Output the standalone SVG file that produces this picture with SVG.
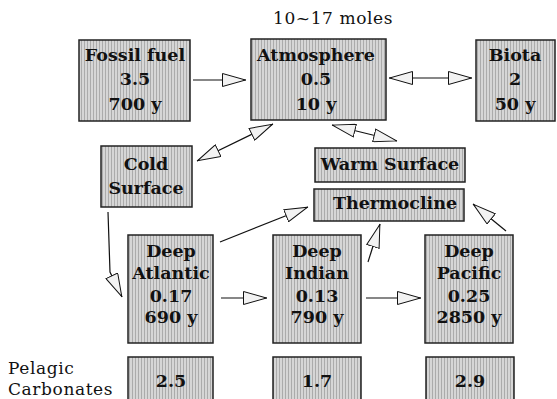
<svg xmlns="http://www.w3.org/2000/svg" width="557" height="399" viewBox="0 0 557 399">
<style>
.box{fill:url(#dots);stroke:#222;stroke-width:1.5}
.t{font-family:"DejaVu Serif","Liberation Serif",serif;font-weight:bold;font-size:17.5px;fill:#111;text-anchor:middle}
.p{font-family:"DejaVu Serif","Liberation Serif",serif;font-size:17px;fill:#111;letter-spacing:0.6px}
.c{fill:none;stroke:#111;stroke-width:1.2}
</style>
<defs>
<pattern id="dots" width="3" height="3" patternUnits="userSpaceOnUse">
<rect width="3" height="3" fill="#d6d6d6"/>
<rect width="1" height="3" fill="#ababab"/>
</pattern>
<marker id="ah" viewBox="0 0 24 14" refX="24" refY="7" markerWidth="24" markerHeight="14" markerUnits="userSpaceOnUse" orient="auto-start-reverse">
<path d="M0.5,0.5 L23.5,7 L0.5,13.5 Z" fill="#f2f2f2" stroke="#111" stroke-width="1"/>
</marker>
</defs>
<rect width="557" height="399" fill="#fff"/>
<text class="p" x="273" y="24">10~17 moles</text>
<text class="p" x="8" y="374">Pelagic</text>
<text class="p" x="8" y="395">Carbonates</text>

<g id="fossil"><rect class="box" x="79" y="40" width="111" height="81"/>
<text class="t" x="135" y="61">Fossil fuel</text><text class="t" x="135" y="85">3.5</text><text class="t" x="135" y="110">700 y</text></g>
<g id="atmosphere"><rect class="box" x="251" y="39" width="135" height="81"/>
<text class="t" x="316" y="61">Atmosphere</text><text class="t" x="316" y="85">0.5</text><text class="t" x="316" y="110">10 y</text></g>
<g id="biota"><rect class="box" x="476" y="40" width="79" height="81"/>
<text class="t" x="515" y="61">Biota</text><text class="t" x="515" y="85">2</text><text class="t" x="515" y="110">50 y</text></g>
<g id="cold"><rect class="box" x="101" y="146" width="91" height="61"/>
<text class="t" x="146" y="170">Cold</text><text class="t" x="146" y="194">Surface</text></g>
<g id="warm"><rect class="box" x="315" y="148" width="150" height="34"/>
<text class="t" x="390" y="170">Warm Surface</text></g>
<g id="thermocline"><rect class="box" x="314" y="189" width="150" height="32"/>
<text class="t" x="395" y="209">Thermocline</text></g>
<g id="atlantic"><rect class="box" x="128" y="235" width="85" height="108"/>
<text class="t" x="171" y="257">Deep</text><text class="t" x="171" y="279">Atlantic</text><text class="t" x="171" y="302">0.17</text><text class="t" x="171" y="323">690 y</text></g>
<g id="indian"><rect class="box" x="273" y="235" width="88" height="108"/>
<text class="t" x="317" y="257">Deep</text><text class="t" x="317" y="279">Indian</text><text class="t" x="317" y="302">0.13</text><text class="t" x="317" y="323">790 y</text></g>
<g id="pacific"><rect class="box" x="425" y="235" width="88" height="108"/>
<text class="t" x="469" y="257">Deep</text><text class="t" x="469" y="279">Pacific</text><text class="t" x="469" y="302">0.25</text><text class="t" x="469" y="323">2850 y</text></g>
<g id="carb-atlantic"><rect class="box" x="128" y="357" width="85" height="46"/>
<text class="t" x="171" y="387">2.5</text></g>
<g id="carb-indian"><rect class="box" x="273" y="357" width="88" height="46"/>
<text class="t" x="317" y="387">1.7</text></g>
<g id="carb-pacific"><rect class="box" x="426" y="357" width="88" height="46"/>
<text class="t" x="470" y="387">2.9</text></g>

<g id="connectors">
<line class="c" x1="193" y1="80" x2="246" y2="80" marker-end="url(#ah)"/>
<line class="c" x1="389" y1="78" x2="472" y2="78" marker-start="url(#ah)" marker-end="url(#ah)"/>
<line class="c" x1="273" y1="124" x2="197" y2="161" marker-start="url(#ah)" marker-end="url(#ah)"/>
<line class="c" x1="332" y1="125" x2="397" y2="141" marker-start="url(#ah)" marker-end="url(#ah)"/>
<polyline class="c" points="108,212 110,272 122,297" marker-end="url(#ah)"/>
<line class="c" x1="220" y1="242" x2="308" y2="207" marker-end="url(#ah)"/>
<line class="c" x1="221" y1="298" x2="267" y2="298" marker-end="url(#ah)"/>
<line class="c" x1="368" y1="262" x2="380" y2="224" marker-end="url(#ah)"/>
<line class="c" x1="366" y1="298" x2="421" y2="298" marker-end="url(#ah)"/>
<line class="c" x1="506" y1="231" x2="473" y2="204" marker-end="url(#ah)"/>
</g>
</svg>
